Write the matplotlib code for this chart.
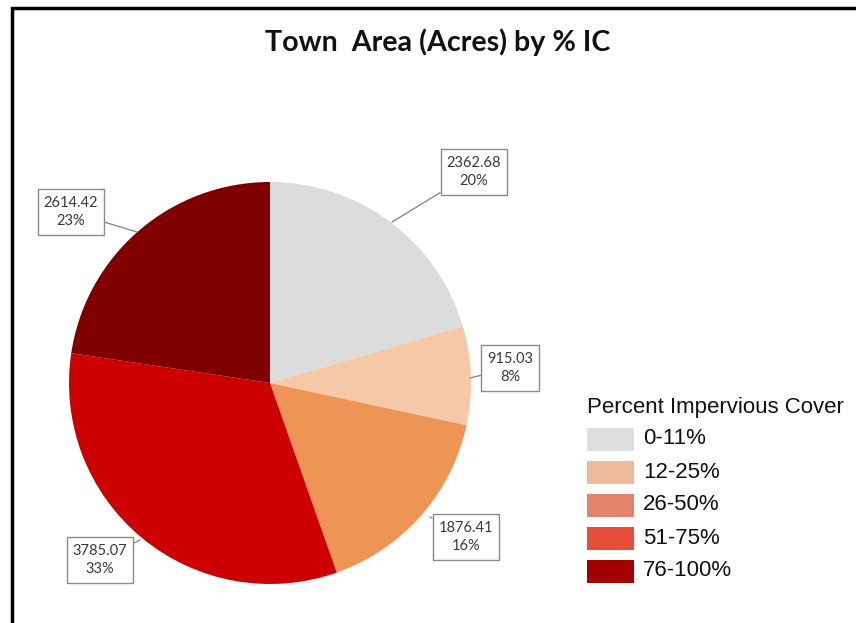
import matplotlib
matplotlib.use("Agg")
import matplotlib.pyplot as plt
from matplotlib.patches import Rectangle

# data
categories = ["0-11%", "12-25%", "26-50%", "51-75%", "76-100%"]
acres = [2362.68, 915.03, 1876.41, 3785.07, 2614.42]
pct_labels = ["20%", "8%", "16%", "33%", "23%"]
slice_colors = ["#dcdcdc", "#f6c8a8", "#ee9555", "#cc0000", "#800000"]
legend_colors = ["#dedede", "#f0b99b", "#e2836a", "#e84c3b", "#a30000"]

W, H = 856, 623
fig = plt.figure(figsize=(W / 100, H / 100), dpi=100)
ax = fig.add_axes([0, 0, 1, 1])

def py(y):
    # pixel row (top-down) -> axes y
    return H - y

cx, cy, r = 270, 383, 201
ax.pie(acres, colors=slice_colors, startangle=90, counterclock=False,
       center=(cx, py(cy)), radius=r, wedgeprops=dict(linewidth=0))
ax.set_xlim(0, W)
ax.set_ylim(0, H)
ax.set_aspect("equal")
ax.axis("off")

# frame around the figure
ax.add_patch(Rectangle((12, py(640)), 860, 632, fill=False, lw=2.5,
                       ec="black", clip_on=False))

ax.text(438, py(42), "Town  Area (Acres) by % IC", ha="center", va="center",
        fontsize=20.6, fontweight="bold", family="Lato", color="#111111")

# callout boxes: box centre and point on the pie edge (pixels)
box_xy = [(474, 172), (510, 368), (466, 537), (100, 560), (71, 212)]
tip_xy = [(392, 222), (470, 378), (430, 517), (140, 540), (137, 232)]
for v, p, (bx, by), (tx, ty) in zip(acres, pct_labels, box_xy, tip_xy):
    ax.annotate(f"{v:.2f}\n{p}", xy=(tx, py(ty)), xytext=(bx, py(by)),
                ha="center", va="center", fontsize=10.5, color="#3a3a3a",
                family="Lato", linespacing=1.45,
                bbox=dict(boxstyle="square,pad=0.42", fc="white", ec="#8a8a8a", lw=1),
                arrowprops=dict(arrowstyle="-", color="#8a8a8a", lw=1,
                                shrinkA=0, shrinkB=0))

# legend
ax.text(587, py(408), "Percent Impervious Cover", ha="left", va="center",
        fontsize=16, family="Liberation Sans", color="#111111")
for i, (lab, col) in enumerate(zip(categories, legend_colors)):
    y = 439 + i * 33
    ax.add_patch(Rectangle((587, py(y + 11.5)), 47, 23, fc=col, ec="none"))
    ax.text(643, py(y), lab, ha="left", va="center", fontsize=16,
            family="Liberation Sans", color="#111111")

fig.savefig("out.png", dpi=100, facecolor="white")
